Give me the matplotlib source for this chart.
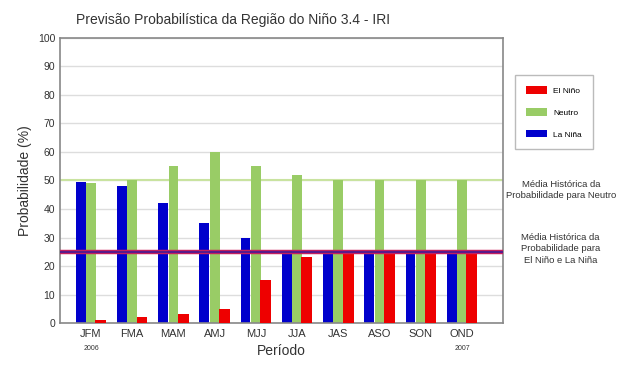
import numpy as np
import matplotlib
matplotlib.use("Agg")
import matplotlib.pyplot as plt

plt.rcParams["font.family"] = ["Liberation Sans", "DejaVu Sans"]

# Seasons and probabilities (%)
periodos = ["JFM", "FMA", "MAM", "AMJ", "MJJ", "JJA", "JAS", "ASO", "SON", "OND"]
la_nina = [49.5, 48, 42, 35, 30, 25, 25, 25, 25, 25]
neutro = [49, 50, 55, 60, 55, 52, 50, 50, 50, 50]
el_nino = [1, 2, 3, 5, 15, 23, 25, 25, 25, 25]
media_neutro = 50
media_enso = 25

x = np.arange(len(periodos))
w = 0.25

fig = plt.figure(figsize=(6.19, 3.65), dpi=100)
ax = fig.add_axes([0.097, 0.115, 0.716, 0.781])

ax.set_axisbelow(True)
ax.grid(axis="y", color="#dddddd", lw=1)
ax.axhline(media_neutro, color="#c9e3a0", lw=1.5, zorder=1)

b_nina = ax.bar(x - w, la_nina, w * 0.95, color="#0000cc", label="La Niña", zorder=2)
b_neu = ax.bar(x, neutro, w * 0.95, color="#99cc66", label="Neutro", zorder=2)
b_nino = ax.bar(x + w * 0.95, el_nino, w * 1.05, color="#ee0000", label="El Niño", zorder=3)

ax.axhline(media_enso, color="#d0205a", lw=3.2, zorder=4)
ax.axhline(media_enso, color="#5a1a8a", lw=1.6, zorder=5)

ax.set_xlim(-0.75, 10.0)
ax.set_ylim(0, 100)
ax.set_yticks(range(0, 101, 10))
ax.set_xticks(x)
ax.set_xticklabels(periodos, fontsize=8, color="#333333")
ax.tick_params(axis="y", labelsize=7.5, colors="#333333", length=0)
ax.tick_params(axis="x", length=0, pad=4)
for s in ax.spines.values():
    s.set_color("#888888")
    s.set_linewidth(1.2)

ax.text(0, -9.5, "2006", fontsize=5, ha="center", color="#333333")
ax.text(9, -9.5, "2007", fontsize=5, ha="center", color="#333333")

ax.set_xlabel("Período", fontsize=10, color="#333333", labelpad=4)
ax.set_ylabel("Probabilidade (%)", fontsize=10, color="#333333")
fig.text(0.377, 0.935, "Previsão Probabilística da Região do Niño 3.4 - IRI",
         fontsize=10, ha="center", color="#333333")

leg = fig.legend(handles=[b_nino, b_neu, b_nina], loc="upper left",
                 bbox_to_anchor=(0.825, 0.805), fontsize=6, frameon=True,
                 fancybox=False, edgecolor="#aaaaaa", handlelength=2.5,
                 handleheight=1.0, labelspacing=1.6, borderpad=1.3)

fig.text(0.906, 0.48, "Média Histórica da\nProbabilidade para Neutro",
         fontsize=6.8, ha="center", va="center", color="#333333", linespacing=1.35)
fig.text(0.905, 0.318, "Média Histórica da\nProbabilidade para\nEl Niño e La Niña",
         fontsize=6.8, ha="center", va="center", color="#333333", linespacing=1.35)

fig.savefig("out.png", dpi=100)
